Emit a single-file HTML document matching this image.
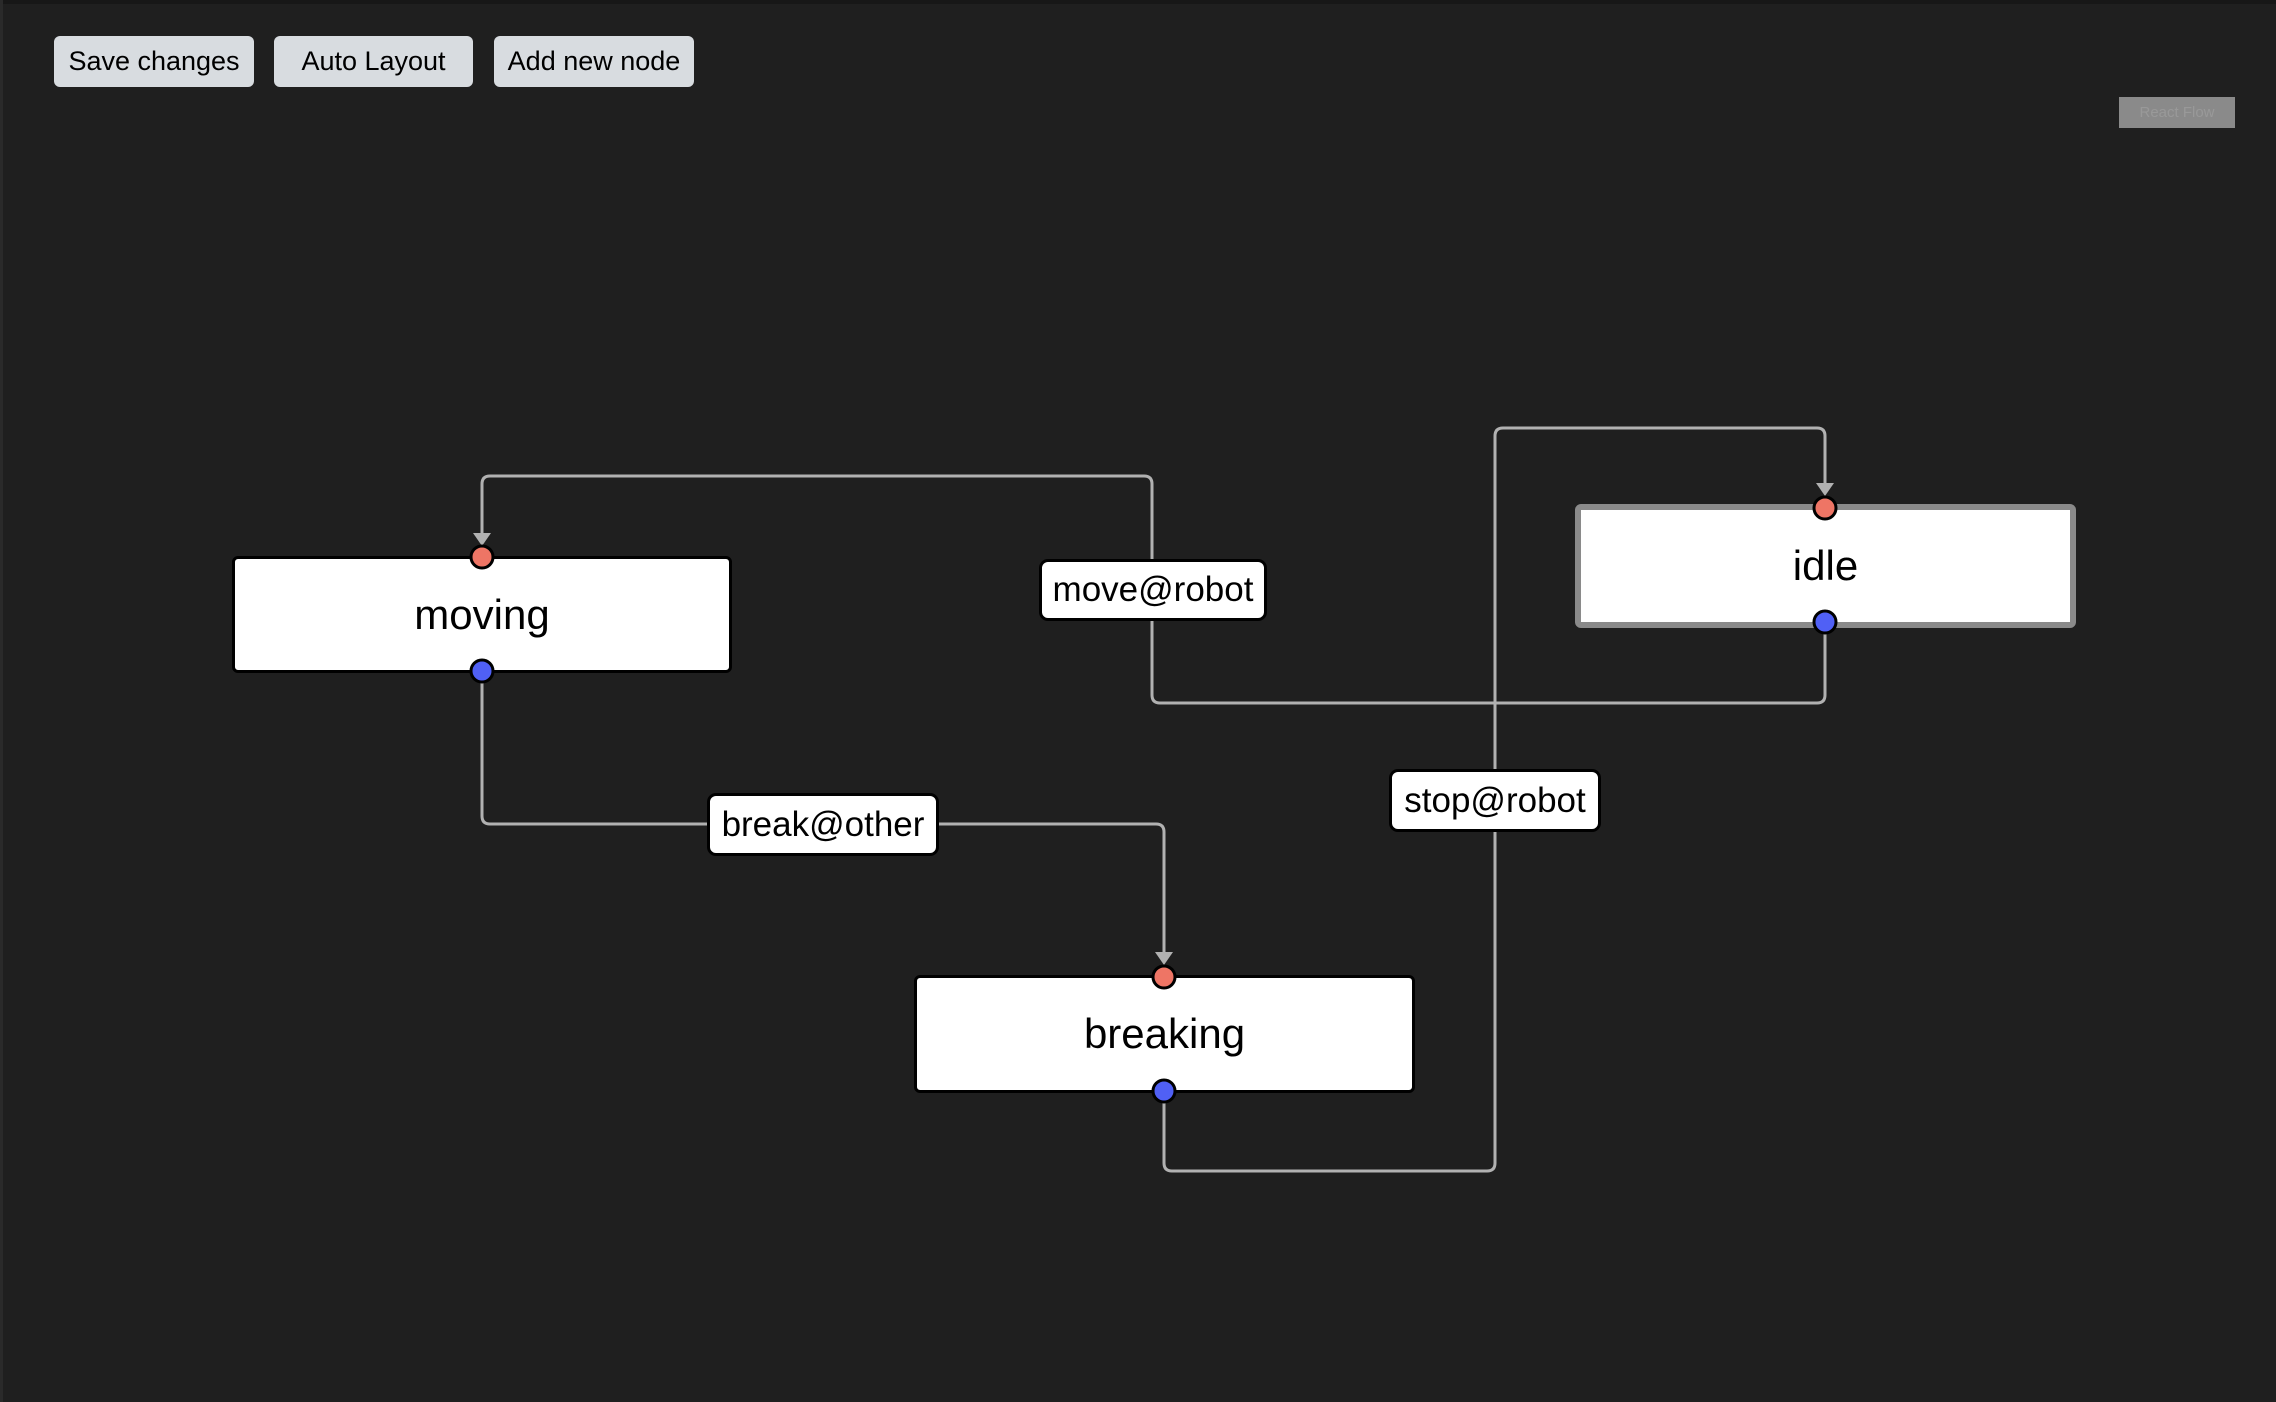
<!DOCTYPE html>
<html><head><meta charset="utf-8"><style>
html,body{margin:0;padding:0;background:#1f1f1f;width:2276px;height:1402px;overflow:hidden;font-family:"Liberation Sans",Arial,sans-serif}
.btn{position:absolute;top:36px;height:51px;background:#d8dce0;border-radius:6px;font-size:27px;color:#000;display:flex;align-items:center;justify-content:center}
.node{position:absolute;background:#fff;box-sizing:border-box;border:3px solid #000;border-radius:6px;display:flex;align-items:center;justify-content:center;font-size:42px;color:#000}
.lbl{position:absolute;background:#fff;box-sizing:border-box;border:3px solid #000;border-radius:9px;display:flex;align-items:center;justify-content:center;font-size:35px;color:#000;white-space:nowrap}
</style></head><body>
<div style="position:absolute;left:0;top:0;width:2276px;height:4px;background:#171717"></div>
<div style="position:absolute;left:0;top:0;width:3px;height:1402px;background:#2a2a2a"></div>
<div class="btn" style="left:54px;width:200px">Save changes</div>
<div class="btn" style="left:274px;width:199px">Auto Layout</div>
<div class="btn" style="left:494px;width:200px">Add new node</div>
<div style="position:absolute;left:2119px;top:97px;width:116px;height:31px;background:#8a8a8a;color:#999;font-size:15px;display:flex;align-items:center;justify-content:center">React Flow</div>

<svg width="2276" height="1402" style="position:absolute;left:0;top:0">
<g fill="none" stroke="#b1b1b1" stroke-width="3">
<path d="M1825 621 V695 Q1825 703 1817 703 H1160 Q1152 703 1152 695 V484 Q1152 476 1144 476 H490 Q482 476 482 484 V535"/>
<path d="M482 671 V816 Q482 824 490 824 H1156 Q1164 824 1164 832 V955"/>
<path d="M1164 1090 V1163 Q1164 1171 1172 1171 H1487 Q1495 1171 1495 1163 V436 Q1495 428 1503 428 H1817 Q1825 428 1825 436 V486"/>
</g>
<g fill="#b1b1b1">
<polygon points="473,533 491,533 482,546"/>
<polygon points="1155,952 1173,952 1164,965"/>
<polygon points="1816,483 1834,483 1825,496"/>
</g>
</svg>

<div class="node" style="left:232px;top:556px;width:500px;height:117px">moving</div>
<div class="node" style="left:1575px;top:504px;width:501px;height:124px;border:6px solid #8a8a8a">idle</div>
<div class="node" style="left:914px;top:975px;width:501px;height:118px">breaking</div>

<div class="lbl" style="left:1039px;top:559px;width:228px;height:62px">move@robot</div>
<div class="lbl" style="left:707px;top:793px;width:232px;height:63px">break@other</div>
<div class="lbl" style="left:1389px;top:769px;width:212px;height:63px">stop@robot</div>

<svg width="2276" height="1402" style="position:absolute;left:0;top:0">
<g stroke="#000" stroke-width="3">
<circle cx="482" cy="557" r="11" fill="#ee7565"/>
<circle cx="482" cy="671" r="11" fill="#5060f5"/>
<circle cx="1825" cy="508" r="11" fill="#ee7565"/>
<circle cx="1825" cy="622" r="11" fill="#5060f5"/>
<circle cx="1164" cy="977" r="11" fill="#ee7565"/>
<circle cx="1164" cy="1091" r="11" fill="#5060f5"/>
</g>
</svg>
</body></html>
